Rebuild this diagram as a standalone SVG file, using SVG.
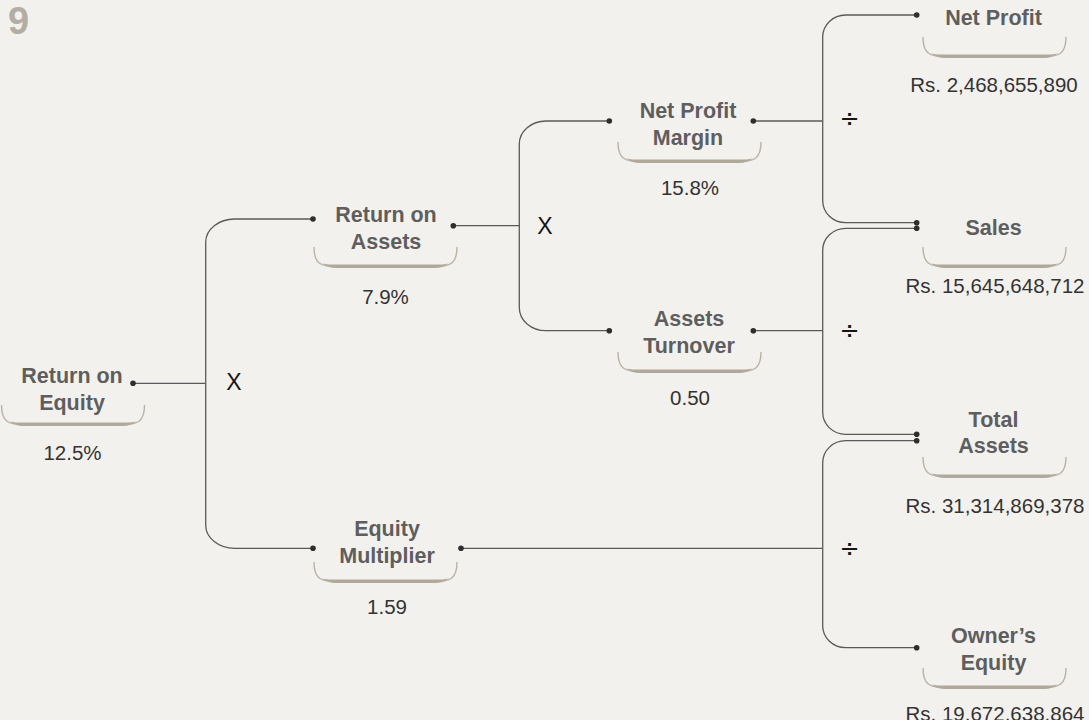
<svg xmlns="http://www.w3.org/2000/svg" width="1089" height="720" viewBox="0 0 1089 720">
<style>
.lbl{font-family:"Liberation Sans",Arial,sans-serif;font-weight:bold;font-size:21.5px;fill:#5e5e5e;text-anchor:middle}
.val{font-family:"Liberation Sans",Arial,sans-serif;font-size:20.5px;fill:#333;text-anchor:middle}
.op{font-family:"Liberation Sans",Arial,sans-serif;font-size:23px;fill:#151515;text-anchor:middle}
.div{font-family:"DejaVu Sans",sans-serif;font-size:24px;fill:#151515;text-anchor:middle}
.ln{fill:none;stroke:#5a5a5a;stroke-width:1.3}
.br{fill:none;stroke:#b9b2a7;stroke-width:1.4}
.bb{fill:#b0a89b;stroke:none}
.dot{fill:#2e2e2e}
</style>
<defs>
<g id="brk">
<path class="br" d="M0,0 C0,16 6,20 24,20 H119 C137,20 143,16 143,0"/>
<path class="bb" d="M8,16.5 C13,19.5 18,21 24,21 H119 C125,21 130,19.5 135,16.5 C129,17.8 124,17.6 119,17.6 H24 C19,17.6 14,17.8 8,16.5 Z"/>
</g>
</defs>
<rect width="1089" height="720" fill="#f3f1ee"/>
<text x="8" y="34" style="font-family:'Liberation Sans',Arial,sans-serif;font-weight:bold;font-size:38px;fill:#b3ada3">9</text>

<g id="connectors">
<path class="ln" d="M133,383.3 H205.7"/>
<path class="ln" d="M313,219 H235 A29 23 0 0 0 205.7,242 V525 A29 23 0 0 0 235,548.3 H313"/>
<path class="ln" d="M453.3,225.7 H519.3"/>
<path class="ln" d="M609.3,121 H546 A26.7 23 0 0 0 519.3,144 V307.7 A26.7 23 0 0 0 546,330.7 H609.3"/>
<path class="ln" d="M753.3,121 H822.7"/>
<path class="ln" d="M916.7,15 H845.7 A23 22 0 0 0 822.7,37 V200.7 A23 22 0 0 0 845.7,222.7 H916.7"/>
<path class="ln" d="M753.3,330.7 H822.7"/>
<path class="ln" d="M916.7,228.3 H845.7 A23 22 0 0 0 822.7,250.3 V412.3 A23 22 0 0 0 845.7,434.3 H916.7"/>
<path class="ln" d="M461,548.3 H822.7"/>
<path class="ln" d="M916.7,440.7 H845.7 A23 22 0 0 0 822.7,462.7 V625.7 A23 22 0 0 0 845.7,647.7 H916.7"/>
<circle class="dot" cx="133" cy="383.3" r="2.8"/>
<circle class="dot" cx="313" cy="219" r="2.8"/>
<circle class="dot" cx="453.3" cy="225.7" r="2.8"/>
<circle class="dot" cx="609.3" cy="121" r="2.8"/>
<circle class="dot" cx="753.3" cy="121" r="2.8"/>
<circle class="dot" cx="609.3" cy="330.7" r="2.8"/>
<circle class="dot" cx="753.3" cy="330.7" r="2.8"/>
<circle class="dot" cx="313" cy="548.3" r="2.8"/>
<circle class="dot" cx="461" cy="548.3" r="2.8"/>
<circle class="dot" cx="916.7" cy="15" r="2.8"/>
<circle class="dot" cx="916.7" cy="222.7" r="2.8"/>
<circle class="dot" cx="916.7" cy="228.3" r="2.8"/>
<circle class="dot" cx="916.7" cy="434.3" r="2.8"/>
<circle class="dot" cx="916.7" cy="440.7" r="2.8"/>
<circle class="dot" cx="916.7" cy="647.7" r="2.8"/>
<text class="op" x="234" y="390">X</text>
<text class="op" x="545" y="234">X</text>
<text class="div" x="849.5" y="127">÷</text>
<text class="div" x="849.5" y="339">÷</text>
<text class="div" x="849.5" y="557">÷</text>
</g>

<g id="roe">
<use href="#brk" x="1.5" y="405"/>
<text class="lbl" x="72" y="383">Return on</text>
<text class="lbl" x="72" y="410">Equity</text>
<text class="val" x="72.5" y="460">12.5%</text>
</g>
<g id="roa">
<use href="#brk" x="314" y="247"/>
<text class="lbl" x="386" y="222.3">Return on</text>
<text class="lbl" x="386" y="248.5">Assets</text>
<text class="val" x="385.5" y="304">7.9%</text>
</g>
<g id="npm">
<use href="#brk" x="618" y="142"/>
<text class="lbl" x="688" y="118.3">Net Profit</text>
<text class="lbl" x="688" y="145">Margin</text>
<text class="val" x="690" y="195">15.8%</text>
</g>
<g id="at">
<use href="#brk" x="618" y="352"/>
<text class="lbl" x="689" y="326">Assets</text>
<text class="lbl" x="689" y="353.3">Turnover</text>
<text class="val" x="690" y="405">0.50</text>
</g>
<g id="em">
<use href="#brk" x="314" y="562"/>
<text class="lbl" x="387" y="536">Equity</text>
<text class="lbl" x="387" y="563.3">Multiplier</text>
<text class="val" x="387" y="614">1.59</text>
</g>
<g id="np">
<use href="#brk" x="923" y="37"/>
<text class="lbl" x="993.5" y="25">Net Profit</text>
<text class="val" x="994" y="92.3">Rs. 2,468,655,890</text>
</g>
<g id="sales">
<use href="#brk" x="923" y="247"/>
<text class="lbl" x="993.5" y="235">Sales</text>
<text class="val" x="995" y="293.3">Rs. 15,645,648,712</text>
</g>
<g id="ta">
<use href="#brk" x="923" y="457"/>
<text class="lbl" x="993.5" y="426.7">Total</text>
<text class="lbl" x="993.5" y="453.3">Assets</text>
<text class="val" x="995" y="513.3">Rs. 31,314,869,378</text>
</g>
<g id="oe">
<use href="#brk" x="923" y="668"/>
<text class="lbl" x="993.5" y="642.7">Owner’s</text>
<text class="lbl" x="993.5" y="670">Equity</text>
<text class="val" x="995" y="720.5">Rs. 19,672,638,864</text>
</g>
</svg>
